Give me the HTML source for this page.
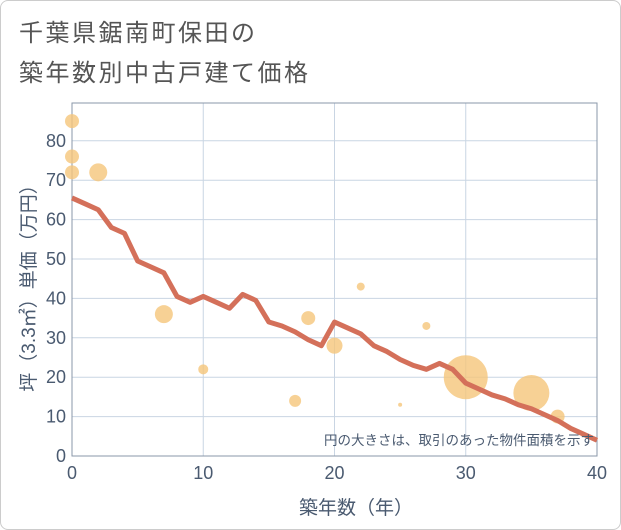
<!DOCTYPE html>
<html><head><meta charset="utf-8">
<style>
body{margin:0;background:#fff;font-family:"Liberation Sans","Noto Sans CJK JP",sans-serif;}
#wrap{position:relative;width:619px;height:528px;border:1px solid #ccc;border-radius:8px;overflow:hidden;background:#fff}
.title{position:absolute;left:18px;font-size:24px;color:#555;letter-spacing:2.5px}
</style></head>
<body>
<div id="wrap">
<div class="title" style="top:12px">千葉県鋸南町保田の</div>
<div class="title" style="top:52px">築年数別中古戸建て価格</div>
<svg id="chart" width="621" height="530" style="position:absolute;left:-1px;top:-1px"></svg>
</div>
<script>
const xTicks=[0,10,20,30,40];
const yTicks=[0,10,20,30,40,50,60,70,80];
const lineYears=[0,1,2,3,4,5,6,7,8,9,10,11,12,13,14,15,16,17,18,19,20,21,22,23,24,25,26,27,28,29,30,31,32,33,34,35,36,37,38,39,40];
const lineValues=[65.5,64,62.5,58,56.5,49.5,48,46.5,40.5,39,40.5,39,37.5,41,39.5,34,33,31.5,29.5,28,34,32.5,31,28,26.5,24.5,23,22,23.5,22,18.5,17,15.5,14.5,13,12,10.5,9,7,5.5,4];
const bubbleX=[0,0,0,2,7,10,17,18,20,22,25,27,30,35,37];
const bubbleY=[85,76,72,72,36,22,14,35,28,43,13,33,20,16,10];
const bubbleSize=[7,7,7,9,9,5,6,7,8,4,2,4,22,18,7];

const NS="http://www.w3.org/2000/svg";
const svg=document.getElementById('chart');
const L=72,R=597,T=103,B=456;
const X=v=>L+(v-0)/40*(R-L);
const Y=v=>B-v*3.94;
function mk(tag,attrs){const e=document.createElementNS(NS,tag);for(const k in attrs)e.setAttribute(k,attrs[k]);svg.appendChild(e);return e;}
const bg=mk('rect',{x:L,y:T,width:R-L,height:B-T,fill:'#fff'});


yTicks.forEach(t=>{
  const g=mk('line',{x1:L,x2:R,y1:Y(t),y2:Y(t),stroke:'#c9d5e3','stroke-width':1});
  
  
  const tx=mk('text',{x:L-6,y:Y(t)+6,'text-anchor':'end','font-size':18,fill:'#4a5a70'});
  tx.textContent=t;
  
  
});
xTicks.forEach(t=>{
  const g=mk('line',{x1:X(t),x2:X(t),y1:T,y2:B,stroke:'#c9d5e3','stroke-width':1});
  
  
  const tx=mk('text',{x:X(t),y:B+23,'text-anchor':'middle','font-size':18,fill:'#4a5a70'});
  tx.textContent=t;
  
  
});
const frame=mk('rect',{x:L,y:T,width:R-L,height:B-T,fill:'none',stroke:'#8a97a8','stroke-width':1});


bubbleX.forEach((bx,i)=>{
  const c=mk('circle',{cx:X(bx),cy:Y(bubbleY[i]),r:bubbleSize[i],fill:'#f5c67a','fill-opacity':0.8});
  
  
});
const pts=lineYears.map((yr,i)=>X(yr)+','+Y(lineValues[i])).join(' ');
const pl=mk('polyline',{points:pts,fill:'none',stroke:'#d4705a','stroke-width':5,'stroke-linejoin':'round'});


const note=mk('text',{x:594,y:445,'text-anchor':'end','font-size':13.5,fill:'#4a5a70'});
note.textContent='円の大きさは、取引のあった物件面積を示す';


const xt=mk('text',{x:356,y:514,'text-anchor':'middle','font-size':19,fill:'#4a5a70'});
xt.textContent='築年数（年）';


const yt=mk('text',{x:0,y:0,'text-anchor':'middle','font-size':19,fill:'#4a5a70',transform:'translate(35,'+((T+B)/2+4)+') rotate(-90)'});
yt.textContent='坪（3.3㎡）単価（万円）';


</script>
</body></html>
